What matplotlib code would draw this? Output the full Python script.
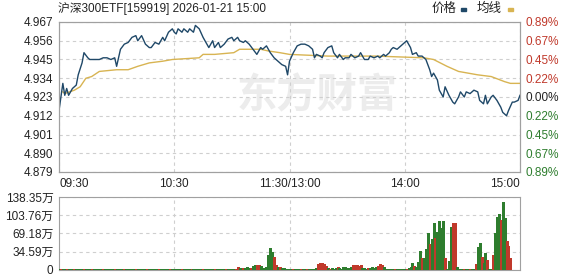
import matplotlib
matplotlib.use("Agg")
import matplotlib.pyplot as plt
from matplotlib.patches import Rectangle

plt.rcParams['font.family'] = ['Liberation Sans', 'Noto Sans CJK SC']

title = "沪深300ETF[159919] 2026-01-21 15:00"
prev_close = 4.923

# minutes from 09:30 (0..240, lunch break removed)
price_min = [0, 2, 3, 4, 5, 7, 9, 10, 12, 13, 15, 16, 19, 21, 23, 25, 27, 29, 30, 32,
             34, 36, 38, 40, 41, 43, 45, 47, 48, 50, 52, 54, 55, 57, 59, 60, 61, 62, 64, 65,
             67, 68, 70, 71, 73, 75, 77, 78, 80, 81, 83, 84, 86, 88, 90, 91, 93, 94, 96, 97,
             99, 101, 103, 105, 106, 108, 110, 112, 114, 116, 118, 119, 120, 122, 124, 126, 128, 130, 132, 133,
             134, 136, 137, 138, 140, 142, 143, 145, 146, 148, 149, 151, 152, 154, 156, 157, 159, 161, 162, 164,
             166, 167, 169, 170, 172, 173, 174, 176, 178, 179, 181, 183, 184, 186, 187, 189, 191, 193, 194, 195,
             197, 198, 200, 201, 203, 205, 206, 208, 209, 211, 212, 214, 216, 218, 219, 221, 222, 223, 225, 226,
             228, 230, 231, 233, 234, 236, 237, 239, 240]
price_val = [4.915, 4.931, 4.924, 4.928, 4.924, 4.928, 4.930, 4.936, 4.943, 4.949, 4.946, 4.945, 4.945, 4.945, 4.946, 4.946, 4.945, 4.946, 4.941, 4.951,
             4.954, 4.955, 4.958, 4.959, 4.956, 4.959, 4.954, 4.952, 4.952, 4.955, 4.954, 4.958, 4.956, 4.961, 4.963, 4.961, 4.960, 4.963, 4.961, 4.963,
             4.961, 4.963, 4.961, 4.965, 4.963, 4.958, 4.954, 4.952, 4.956, 4.952, 4.955, 4.952, 4.954, 4.957, 4.958, 4.956, 4.958, 4.956, 4.955, 4.956,
             4.954, 4.951, 4.948, 4.952, 4.951, 4.953, 4.949, 4.946, 4.944, 4.942, 4.941, 4.936, 4.944, 4.949, 4.953, 4.954, 4.954, 4.953, 4.951, 4.946,
             4.948, 4.947, 4.946, 4.949, 4.952, 4.953, 4.949, 4.946, 4.948, 4.945, 4.946, 4.946, 4.948, 4.946, 4.947, 4.949, 4.945, 4.945, 4.947, 4.946,
             4.947, 4.946, 4.948, 4.947, 4.949, 4.951, 4.952, 4.951, 4.953, 4.954, 4.956, 4.952, 4.948, 4.949, 4.947, 4.947, 4.945, 4.939, 4.935, 4.937,
             4.933, 4.927, 4.923, 4.929, 4.924, 4.920, 4.919, 4.923, 4.926, 4.923, 4.926, 4.925, 4.927, 4.926, 4.921, 4.919, 4.924, 4.919, 4.923, 4.924,
             4.921, 4.917, 4.914, 4.912, 4.915, 4.920, 4.920, 4.921, 4.924]

avg_min = [2, 3, 8, 11, 14, 17, 21, 30, 36, 41, 47, 54, 59, 73, 75, 81, 91, 94, 99, 105,
           109, 115, 120, 140, 165, 190, 195, 202, 208, 218, 225, 232, 235, 240]
avg_val = [4.926, 4.925, 4.927, 4.929, 4.934, 4.935, 4.938, 4.939, 4.939, 4.941, 4.943, 4.944, 4.945, 4.946, 4.948, 4.948, 4.949, 4.951, 4.951, 4.951,
           4.950, 4.949, 4.948, 4.947, 4.947, 4.946, 4.945, 4.941, 4.938, 4.936, 4.935, 4.932, 4.931, 4.931]

# volume per minute, in 万
vol = [1, 2, 1, 1, 2, 1, 1, 1, 2, 1,
       1, 1, 2, 1, 1, 1, 1, 2, 1, 1,
       1, 1, 1, 2, 1, 1, 1, 1, 1, 2,
       1, 1, 1, 1, 2, 1, 1, 1, 1, 1,
       2, 1, 1, 1, 1, 1, 2, 1, 1, 1,
       1, 1, 2, 1, 1, 1, 1, 1, 2, 1,
       1, 1, 1, 1, 2, 1, 1, 1, 1, 2,
       1, 1, 1, 1, 1, 2, 1, 1, 1, 1,
       1, 2, 1, 1, 1, 1, 1, 2, 1, 1,
       1, 1, 2, 6, 3, 4, 3, 4, 5, 4,
       3, 8, 10, 9, 10, 8, 4, 3, 5, 28,
       41, 35, 25, 10, 6, 5, 4, 3, 2, 2,
       1, 1, 2, 1, 1, 1, 2, 1, 1, 2,
       1, 2, 1, 2, 3, 11, 13, 14, 12, 8,
       3, 2, 4, 2, 3, 5, 4, 2, 5, 6,
       4, 3, 6, 9, 10, 9, 8, 10, 4, 3,
       2, 4, 3, 5, 3, 6, 8, 11, 9, 5,
       2, 1, 2, 1, 1, 2, 1, 1, 2, 1,
       1, 2, 3, 6, 14, 8, 5, 16, 36, 22,
       23, 40, 71, 49, 59, 89, 60, 72, 93, 80,
       93, 23, 2, 17, 82, 90, 90, 5, 2, 1,
       1, 2, 1, 1, 2, 1, 2, 11, 44, 51,
       25, 13, 33, 19, 2, 2, 28, 70, 101, 107,
       95, 129, 99, 55, 45, 23, 0, 0, 0, 0,
       0]
red_min = [1, 4, 8, 13, 17, 23, 29, 34, 40, 46, 52, 58, 64, 69, 75, 81, 87, 92, 93, 96,
           100, 103, 104, 112, 113, 115, 122, 126, 129, 135, 136, 137, 138, 139, 141, 145,
           153, 154, 155, 156, 157, 161, 166, 167, 168, 175, 181, 185, 189, 193, 196, 201,
           205, 206, 211, 214, 217, 220, 223, 226, 230, 233, 234, 235]

y_ticks = [4.879, 4.890, 4.901, 4.912, 4.923, 4.934, 4.945, 4.956, 4.967]
pct_labels = ['0.89%', '0.67%', '0.45%', '0.22%', '0.00%', '0.22%', '0.45%', '0.67%', '0.89%']
x_ticks = [0, 60, 120, 180, 240]
x_labels = ['09:30', '10:30', '11:30/13:00', '14:00', '15:00']
vol_ticks = [0, 34.59, 69.18, 103.76, 138.35]
vol_labels = ['0', '34.59万', '69.18万', '103.76万', '138.35万']

RED = '#c0392b'
GREEN = '#2e7d2e'
GRID = '#cfcfcf'
SPINE = '#a0a0a0'
FS = 8.5

W, H = 578, 276
fig = plt.figure(figsize=(W / 100, H / 100), dpi=100)
ax = fig.add_axes([59 / W, 1 - 172 / H, 461 / W, 150 / H])
axv = fig.add_axes([59 / W, 1 - 270 / H, 461 / W, 73 / H])

# watermark
ax.text(0.56, 0.51, '东方财富', transform=ax.transAxes, fontsize=29, fontweight='bold',
        color='#ececec', ha='center', va='center', zorder=0, family=['Noto Sans CJK SC'])

ax.plot(avg_min, avg_val, color='#d8b452', lw=1.0, zorder=3)
ax.plot(price_min, price_val, color='#1f4868', lw=1.0, zorder=4)

ax.set_xlim(0, 240)
ax.set_ylim(y_ticks[0], y_ticks[-1])
ax.set_yticks(y_ticks)
ax.set_yticklabels(['%.3f' % v for v in y_ticks])
for lab, v in zip(ax.get_yticklabels(), y_ticks):
    lab.set_color(RED if v > prev_close + 1e-9 else (GREEN if v < prev_close - 1e-9 else '#222222'))
ax.set_xticks(x_ticks)
ax.set_xticklabels(x_labels)
xl = ax.get_xticklabels()
xl[0].set_ha('left')
xl[-1].set_ha('right')
ax.tick_params(length=0, labelsize=FS, pad=4, colors='#222222')

axr = ax.twinx()
axr.set_ylim(ax.get_ylim())
axr.set_yticks(y_ticks)
axr.set_yticklabels(pct_labels)
axr.tick_params(length=0, labelsize=FS, pad=4)
for lab, v in zip(axr.get_yticklabels(), y_ticks):
    lab.set_color(RED if v > prev_close + 1e-9 else (GREEN if v < prev_close - 1e-9 else '#222222'))

for a in (ax, axv):
    a.grid(True, color=GRID, linestyle=(0, (3, 3)), lw=0.8)
    a.set_axisbelow(True)
for a in (ax, axr, axv):
    for s in a.spines.values():
        s.set_color(SPINE)
        s.set_linewidth(0.8)

# volume bars, one thin stick per minute
mins = list(range(len(vol)))
cols = [RED if m in red_min else GREEN for m in mins]
axv.vlines(mins, 0, vol, colors=cols, lw=0.76, antialiased=False, zorder=3)
axv.set_xlim(0, 240)
axv.set_ylim(0, vol_ticks[-1])
axv.set_xticks(x_ticks[1:-1])
axv.set_xticklabels([])
axv.set_yticks(vol_ticks)
axv.set_yticklabels(vol_labels)
axv.tick_params(length=0, labelsize=FS, pad=4, colors='#222222')

# title and legend
fig.text(58 / W, 1 - 9 / H, title, fontsize=FS, ha='left', va='center', color='#222222')
fig.text(432 / W, 1 - 9 / H, '价格', fontsize=FS + 0.5, ha='left', va='center', color='#222222')
fig.add_artist(Rectangle((461 / W, 1 - 11 / H), 5 / W, 3 / H, transform=fig.transFigure,
                         color='#1f4868'))
fig.text(477 / W, 1 - 9 / H, '均线', fontsize=FS + 0.5, ha='left', va='center', color='#222222')
fig.add_artist(Rectangle((508 / W, 1 - 11 / H), 5 / W, 3 / H, transform=fig.transFigure,
                         color='#d8b452'))

fig.savefig('out.png', dpi=100)
